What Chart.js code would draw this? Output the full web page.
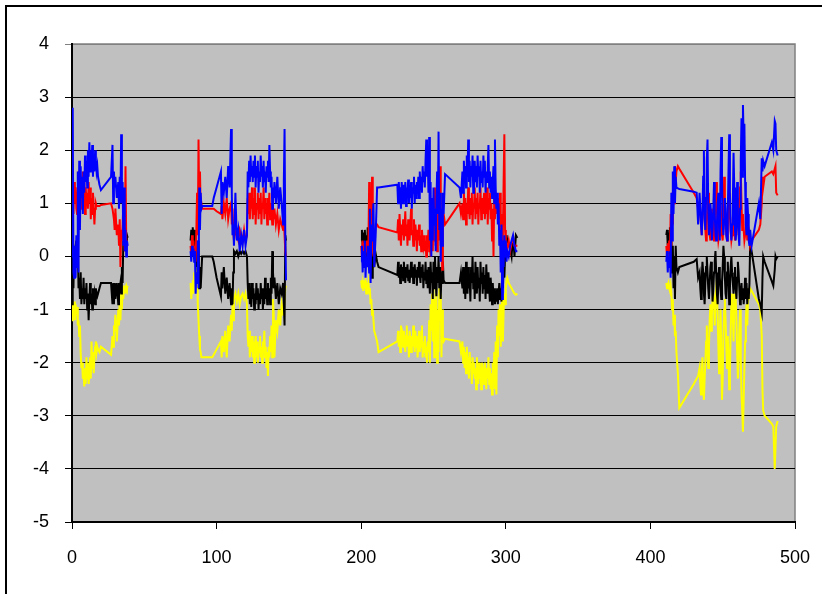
<!DOCTYPE html>
<html>
<head>
<meta charset="utf-8">
<script src="https://cdn.jsdelivr.net/npm/chart.js@4.4.1/dist/chart.umd.min.js"></script>
<style>
  html, body { margin: 0; padding: 0; background: #fff; overflow: hidden; }
  #frame { position: absolute; left: 5px; top: 5px; width: 900px; height: 700px; border: 2px solid #000; }
  #wrap { position: absolute; left: 0; top: 0; width: 822px; height: 594px; }
</style>
</head>
<body>
<div id="frame"></div>
<div id="wrap"><canvas id="myChart" width="822" height="594"></canvas></div>
<script>
// axis ticks
const yTicks = [-5, -4, -3, -2, -1, 0, 1, 2, 3, 4];
const xTicks = [0, 100, 200, 300, 400, 500];

// block 1 (x 0 - 39)
const x1 = [
  0, 0.5, 1, 1.5, 2, 2.5, 3, 3.5, 4, 4.5,
  5, 5.5, 6, 6.5, 7, 7.5, 8, 8.5, 9, 9.5,
  10, 10.5, 11, 11.5, 12, 12.5, 13, 13.5, 14, 14.5,
  15, 15.5, 16, 16.5, 17, 17.5, 18, 19, 20, 27,
  28, 28.5, 29, 29.5, 30, 31, 32, 32.5, 33, 33.5,
  34, 34.5, 35, 35.5, 36, 36.5, 37, 37.5, 38, 38.5
];
const blue1 = [
  0, 2.8, -0.3, -0.4, 0.2, -0.4, 0.4, -0.2, 1.6, -0.3,
  1.8, 0.5, 1.7, 1.1, 1.5, 0.8, 1.6, 1.2, 1.9, 1.4,
  1.8, 1.3, 2.0, 1.5, 2.15, 1.6, 2.0, 1.7, 2.1, 1.5,
  1.9, 1.6, 2.0, 1.8, 1.6, 1.7, 1.5, 1.35, 1.25, 1.5,
  2.1, 1.0, 1.6, 1.3, 1.5, 1.1, 1.4, 0.9, 1.5, 1.0,
  2.3, 1.0, 1.4, 0.2, 1.3, 0.1, 0.5, 0.0, 0.3, 0.2
];
const red1 = [
  1.4, 1.2, 0.8, 1.4, 1.0, 1.3, 0.9, 0.8, 1.2, 1.6,
  1.0, 1.4, 0.9, 1.3, 0.9, 1.6, 1.1, 1.4, 0.8, 1.3,
  1.0, 1.2, 0.9, 1.4, 1.0, 1.3, 0.7, 1.1, 0.8, 1.2,
  0.9, 0.6, 0.9, 1.0, 0.95, 0.95, 0.95, 0.95, 0.97, 1.0,
  0.9, 0.8, 0.7, 0.5, 0.9, 0.4, 0.6, 0.2, 0.7, -0.2,
  0.5, 0.3, 0.6, 1.0, 0.4, 0.1, 1.7, 0.3, 0.2, 0.2
];
const black1 = [
  -0.9, -0.3, -0.6, 0.1, -0.3, 0.2, 0.3, -0.1, 0.3, -0.6,
  -0.4, -0.8, -0.3, -0.9, -0.6, -0.8, -0.4, -0.9, -0.6, -0.8,
  -0.5, -1.0, -0.7, -1.2, -0.8, -0.5, -0.9, -0.7, -1.0, -0.6,
  -0.8, -0.7, -0.9, -0.6, -0.7, -0.75, -0.7, -0.6, -0.5, -0.5,
  -0.9, -0.5, -0.9, -0.5, -0.8, -0.5, -0.9, -0.5, -0.6, -0.5,
  -0.7, -0.2, -0.5, 0.3, 0.2, 0.4, 0.1, 0.3, 0.4, 0.35
];
const yellow1 = [
  -1.2, -0.9, -1.1, -0.85, -1.2, -0.9, -1.1, -0.95, -1.3, -1.2,
  -1.5, -1.3, -1.8, -2.1, -2.0, -2.3, -2.2, -2.45, -2.1, -2.4,
  -1.9, -2.3, -2.0, -2.4, -2.2, -1.9, -2.3, -1.6, -2.1, -1.8,
  -2.2, -1.9, -1.7, -1.6, -1.8, -1.7, -1.75, -1.8, -1.7, -1.85,
  -1.5, -1.7, -1.3, -1.4, -1.1, -1.6, -1.0, -1.3, -0.8, -1.2,
  -0.7, -1.0, -0.6, -0.8, -0.55, -0.7, -0.6, -0.55, -0.6, -0.55
];

// block 2 (x 82 - 148)
const x2 = [
  82, 82.5, 83, 83.5, 84, 84.5, 85, 85.5, 86, 86.5,
  87, 87.5, 88, 88.5, 89, 89.5, 90, 91, 97, 98,
  100, 103, 103.5, 104, 105, 106, 107, 108, 109, 110,
  110.5, 111, 111.5, 112, 113, 114, 115, 116, 117, 118,
  119, 120, 121, 121.5, 122, 122.5, 123, 123.5, 124, 124.5,
  125, 125.5, 126, 126.5, 127, 127.5, 128, 128.5, 129, 129.5,
  130, 130.5, 131, 131.5, 132, 132.5, 133, 133.5, 134, 134.5,
  135, 135.5, 136, 136.5, 137, 137.5, 138, 138.5, 139, 139.5,
  140, 141, 142, 143, 144, 145, 146, 146.5, 147, 147.5,
  148
];
const blue2 = [
  0.1, -0.1, 0.2, 0.0, 0.15, -0.1, 0.1, -0.7, -0.3, -0.5,
  0.3, -0.6, 1.3, 0.5, 1.2, 0.9, 0.95, 0.95, 0.95, 1.1,
  1.3, 1.6, 0.8, 1.4, 1.2, 1.5, 1.1, 1.7, 1.3, 2.4,
  1.2, 0.4, 0.6, 0.2, 1.2, 0.3, 0.5, 0.1, 0.4, 0.2,
  0.5, 0.2, 0.4, 1.6, 1.3, 1.8, 1.4, 1.9, 1.5, 1.7,
  1.4, 1.8, 1.5, 1.9, 1.3, 1.7, 1.5, 1.8, 1.2, 1.6,
  1.4, 1.9, 1.5, 1.7, 1.3, 1.8, 1.4, 1.6, 1.2, 1.7,
  1.5, 1.8, 1.4, 2.1, 1.6, 1.3, 1.5, 0.9, 1.3, 1.1,
  1.4, 1.0, 1.5, 0.9, 1.3, 1.0, 0.6, 1.4, 2.4, 0.4,
  -0.45
];
const red2 = [
  0.2, 0.0, 0.4, 0.1, 0.3, 0.0, 0.2, -0.1, 0.5, 1.2,
  0.4, 2.2, 0.9, 1.6, 0.9, 1.0, 0.9, 0.9, 0.9, 0.9,
  0.85, 0.8, 0.95, 0.7, 1.0, 0.8, 1.1, 0.7, 0.9, 1.0,
  0.6, 0.9, 0.5, 0.3, 0.5, 0.4, 0.3, 0.5, 0.4, 0.3,
  0.5, 0.3, 0.4, 1.1, 0.8, 1.2, 0.7, 1.0, 0.9, 1.3,
  0.7, 1.1, 0.8, 1.3, 0.6, 1.0, 0.9, 1.2, 0.7, 1.1,
  0.8, 1.2, 0.6, 1.0, 0.9, 1.3, 0.7, 1.1, 0.8, 1.0,
  0.6, 1.1, 0.9, 1.2, 0.7, 1.0, 0.8, 0.6, 0.9, 0.7,
  0.9, 0.6, 0.8, 0.5, 0.7, 0.6, 0.5, 0.7, 0.4, 0.1,
  0.0
];
const black2 = [
  0.3, 0.5, 0.2, 0.55, 0.3, 0.5, 0.1, 0.4, -0.2, 0.2,
  -0.5, 0.3, -0.6, -0.2, -0.6, -0.3, 0.0, 0.0, 0.0, -0.1,
  -0.4, -0.75, -0.3, -0.6, -0.2, -0.7, -0.4, -0.8, -0.5, -0.9,
  -0.6, -0.9, -0.3, 0.1, 0.05, 0.1, 0.0, 0.1, 0.05, 0.1,
  0.05, 0.1, 0.0, -0.5, -0.8, -0.5, -0.9, -0.6, -0.95, -0.5,
  -0.8, -0.6, -1.0, -0.7, -0.9, -0.5, -0.8, -0.6, -1.0, -0.7,
  -0.9, -0.5, -0.8, -0.6, -1.0, -0.7, -0.9, -0.4, -0.8, -0.6,
  -0.9, -0.5, -0.8, -0.6, -0.9, -0.4, -0.7, 0.1, -0.3, -0.6,
  -0.4, -0.8, -0.5, -0.9, -0.6, -0.7, -0.5, -0.9, -1.3, 0.4,
  0.3
];
const yellow2 = [
  -0.5, -0.8, -0.6, -0.45, -0.7, -0.3, -0.5, -0.3, -0.4, -0.3,
  -0.9, -1.2, -1.5, -1.75, -1.8, -1.9, -1.9, -1.9, -1.9, -1.85,
  -1.75, -1.6, -1.9, -1.5, -1.8, -1.4, -1.9, -1.3, -1.6, -1.1,
  -1.4, -0.9, -1.2, -0.8, -0.7, -0.85, -0.7, -0.9, -0.75, -0.7,
  -0.8, -0.7, -0.9, -1.5, -1.7, -1.4, -1.9, -1.6, -1.8, -1.5,
  -1.9, -1.6, -2.0, -1.7, -1.5, -1.9, -1.6, -2.0, -1.7, -1.8,
  -1.5, -1.9, -1.7, -2.0, -1.6, -1.8, -1.4, -1.9, -1.7, -2.1,
  -1.8, -2.25, -1.7, -1.9, -1.5, -1.8, -1.3, -1.9, -0.8, -1.1,
  -1.9, -1.2, -1.4, -1.0, -1.3, -0.9, -1.1, -0.7, -0.8, -0.6,
  -0.55
];

// block 3 (x 200 - 308)
const x3 = [
  200, 200.5, 201, 201.5, 202, 202.5, 203, 203.5, 204, 204.5,
  205, 205.5, 206, 206.5, 207, 207.5, 208, 208.5, 209, 210,
  211, 212, 225, 225.5, 226, 226.5, 227, 227.5, 228, 228.5,
  229, 229.5, 230, 230.5, 231, 231.5, 232, 232.5, 233, 233.5,
  234, 234.5, 235, 235.5, 236, 236.5, 237, 237.5, 238, 238.5,
  239, 239.5, 240, 240.5, 241, 241.5, 242, 242.5, 243, 243.5,
  244, 244.5, 245, 245.5, 246, 246.5, 247, 247.5, 248, 248.5,
  249, 249.5, 250, 250.5, 251, 251.5, 252, 252.5, 253, 253.5,
  254, 254.5, 255, 255.5, 256, 256.5, 257, 258, 268, 269,
  270, 270.5, 271, 271.5, 272, 272.5, 273, 273.5, 274, 274.5,
  275, 275.5, 276, 276.5, 277, 277.5, 278, 278.5, 279, 279.5,
  280, 280.5, 281, 281.5, 282, 282.5, 283, 283.5, 284, 284.5,
  285, 285.5, 286, 286.5, 287, 287.5, 288, 288.5, 289, 289.5,
  290, 290.5, 291, 291.5, 292, 292.5, 293, 293.5, 294, 294.5,
  295, 295.5, 296, 296.5, 297, 297.5, 298, 298.5, 299, 299.5,
  300, 300.5, 301, 302, 303, 304, 305, 306, 307, 308
];
const blue3 = [
  -0.1, 0.2, -0.3, 0.1, -0.2, 0.3, -0.4, 0.0, -0.2, 0.2,
  0.0, -0.3, 0.9, -0.5, 0.6, 0.3, 0.8, 1.0, -0.2, 0.4,
  1.3, 1.3, 1.35, 1.0, 1.4, 1.1, 1.3, 0.9, 1.4, 1.2,
  1.0, 1.35, 1.1, 1.4, 0.95, 1.3, 1.2, 1.45, 1.0, 1.3,
  1.1, 1.4, 0.9, 1.3, 1.2, 1.5, 1.0, 1.35, 1.1, 1.4,
  1.2, 1.5, 1.1, 1.6, 1.3, 1.5, 1.2, 1.7, 1.4, 1.6,
  1.3, 1.8, 2.2, 1.5, 1.9, 1.2, 2.25, 0.3, 1.4, 0.0,
  1.1, 0.3, 1.3, 0.6, 0.9, 0.1, 1.0, 1.6, 0.8, 2.35,
  0.5, 1.2, -0.1, 0.9, 0.2, 1.2, 0.8, 1.55, 1.3, 1.1,
  1.6, 1.2, 1.8, 1.4, 1.7, 1.3, 1.9, 1.5, 2.2, 1.4,
  1.8, 1.3, 1.7, 1.5, 1.9, 1.2, 1.6, 1.8, 1.4, 1.7,
  1.3, 1.9, 1.5, 1.7, 1.2, 1.8, 1.4, 1.6, 1.3, 1.9,
  1.5, 1.8, 1.2, 1.6, 1.4, 1.7, 2.1, 1.3, 1.6, 1.2,
  1.5, 1.1, 1.4, 1.7, 1.0, 2.2, 1.3, 0.9, 1.2, 0.6,
  1.0, 0.2, 0.5, -0.3, 0.6, -0.8, 0.3, -0.2, 0.4, 0.0,
  0.3, -0.1, 0.1, 0.0, 0.2, 0.3, 0.4, 0.2, 0.1, 0.1
];
const red3 = [
  0.2, 0.0, 0.3, 0.1, 0.25, -0.05, 0.2, 0.1, 0.3, 0.0,
  0.2, 1.4, 0.1, 0.6, 0.3, 1.5, 0.4, 0.0, 0.2, 0.6,
  0.6, 0.55, 0.45, 0.7, 0.3, 0.8, 0.5, 0.2, 0.6, 0.4,
  0.7, 0.3, 0.55, 0.85, 0.4, 0.6, 0.2, 0.7, 0.5, 0.3,
  0.6, 0.9, 0.4, 0.5, 0.2, 0.7, 0.3, 0.6, 0.4, 0.1,
  0.5, 0.3, 0.6, 0.2, 0.4, 0.1, 0.5, 0.3, 0.2, 0.4,
  0.1, 0.3, 0.0, 0.4, 0.2, 0.5, 0.1, 0.3, 0.0, 0.4,
  0.2, 0.1, 0.9, 0.3, 1.3, 0.2, 0.4, 0.1, 0.5, 1.5,
  0.3, 1.7, 0.2, 0.9, -0.25, 0.5, 0.8, 0.6, 1.0, 0.8,
  1.0, 0.7, 1.2, 0.9, 1.1, 0.6, 1.0, 0.8, 1.3, 0.9,
  0.7, 1.1, 0.8, 1.2, 0.6, 1.0, 0.9, 1.3, 0.7, 1.1,
  0.8, 1.2, 0.6, 1.0, 0.9, 1.3, 0.7, 1.1, 0.8, 1.0,
  1.2, 0.7, 1.0, 0.8, 1.3, 0.6, 1.1, 0.9, 1.2, 0.7,
  1.0, 0.3, 0.9, 0.0, 1.1, 0.7, 1.2, 0.8, 1.0, 0.9,
  1.1, 0.7, 1.2, 0.4, 0.8, 0.2, 0.5, 1.4, 2.3, 0.5,
  0.2, 0.1, 0.15, 0.3, 0.1, 0.25, 0.35, 0.2, 0.2, 0.2
];
const black3 = [
  0.3, 0.5, 0.2, 0.45, 0.1, 0.5, 0.2, 0.4, 0.0, 0.55,
  0.2, 0.4, 0.0, -0.3, 0.3, -0.4, -0.1, 0.0, -0.2, 0.05,
  -0.1, -0.2, -0.35, -0.1, -0.4, -0.2, -0.5, -0.15, -0.35, -0.2,
  -0.45, -0.1, -0.3, -0.5, -0.2, -0.4, -0.15, -0.45, -0.25, -0.5,
  -0.3, -0.1, -0.4, -0.2, -0.5, -0.3, -0.15, -0.4, -0.25, -0.55,
  -0.2, -0.4, -0.1, -0.35, -0.5, -0.2, -0.4, -0.15, -0.6, -0.3,
  -0.45, -0.1, -0.5, -0.25, -0.6, -0.2, -0.4, -0.7, -0.1, -0.5,
  -0.3, -0.8, -0.1, -0.6, 0.0, -0.4, -0.75, -0.2, -0.5, 0.0,
  -0.6, -0.2, -0.8, -0.3, -0.5, -0.1, -0.45, -0.5, -0.5, -0.3,
  -0.6, -0.2, -0.7, -0.3, -0.8, -0.1, -0.5, -0.7, -0.2, -0.6,
  -0.4, -0.85, -0.2, -0.5, 0.0, -0.6, -0.3, -0.8, -0.1, -0.5,
  -0.7, -0.2, -0.6, -0.4, -0.85, -0.1, -0.5, -0.3, -0.7, -0.2,
  -0.6, -0.35, -0.8, -0.15, -0.5, -0.7, -0.3, -0.6, -0.85, -0.4,
  -0.6, -0.9, -0.5, -0.8, -0.6, -0.9, -0.7, -0.85, -0.6, -0.9,
  -0.7, -0.5, -0.8, -0.6, -0.85, -0.3, -0.6, -0.2, -0.4, 0.0,
  0.1, 0.4, 0.3, 0.25, 0.15, 0.0, 0.4, 0.0, 0.4, 0.35
];
const yellow3 = [
  -0.45, -0.6, -0.5, -0.65, -0.45, -0.6, -0.5, -0.7, -0.55, -0.6,
  -0.5, -0.7, -0.6, -0.9, -0.8, -1.1, -1.0, -1.2, -1.4, -1.5,
  -1.6, -1.8, -1.6, -1.4, -1.7, -1.5, -1.8, -1.3, -1.6, -1.5,
  -1.7, -1.4, -1.6, -1.8, -1.5, -1.3, -1.7, -1.5, -1.9, -1.4,
  -1.6, -1.8, -1.5, -1.7, -1.3, -1.6, -1.8, -1.4, -1.7, -1.5,
  -1.9, -1.6, -1.4, -1.8, -1.5, -1.7, -1.3, -1.9, -1.6, -1.8,
  -1.5, -1.9, -1.7, -2.0, -1.6, -1.8, -1.2, -2.0, -0.9, -1.4,
  -0.7, -1.6, -0.6, -1.9, -0.8, -1.5, -0.7, -2.0, -1.0, -1.8,
  -0.6, -1.2, -0.7, -1.9, -1.0, -1.5, -1.6, -1.55, -1.6, -1.8,
  -1.6, -2.0, -1.7, -2.1, -1.8, -2.2, -1.7, -2.0, -1.9, -2.3,
  -1.8, -2.1, -2.0, -2.4, -1.9, -2.2, -2.0, -2.3, -2.1, -2.5,
  -1.9, -2.2, -2.4, -2.0, -2.3, -2.1, -2.5, -2.0, -2.3, -2.2,
  -2.4, -2.0, -2.2, -2.5, -2.1, -2.3, -1.9, -2.4, -2.1, -2.5,
  -2.2, -2.6, -2.0, -2.3, -1.8, -2.5, -1.6, -2.6, -1.3, -1.9,
  -1.0, -1.5, -0.9, -1.7, -1.2, -0.8, -1.6, -1.0, -0.7, -0.9,
  -0.6, -0.45, -0.4, -0.5, -0.55, -0.6, -0.65, -0.7, -0.72, -0.7
];

// block 4 (x 411 - 488)
const x4 = [
  411, 411.5, 412, 412.5, 413, 413.5, 414, 414.5, 415, 415.5,
  416, 416.5, 417, 417.5, 418, 419, 420, 430, 432, 433,
  434, 434.5, 435, 435.5, 436, 436.5, 437, 437.5, 438, 438.5,
  439, 439.5, 440, 440.5, 441, 441.5, 442, 442.5, 443, 443.5,
  444, 444.5, 445, 445.5, 446, 446.5, 447, 447.5, 448, 448.5,
  449, 449.5, 450, 450.5, 451, 451.5, 452, 452.5, 453, 453.5,
  454, 454.5, 455, 455.5, 456, 456.5, 457, 457.5, 458, 458.5,
  459, 459.5, 460, 460.5, 461, 461.5, 462, 462.5, 463, 463.5,
  464, 464.5, 465, 465.5, 466, 466.5, 467, 467.5, 468, 468.5,
  469, 470, 475, 476, 477, 477.5, 478, 479, 484, 485,
  486, 486.5, 487, 488
];
const blue4 = [
  -0.1, 0.1, -0.3, 0.0, -0.2, 0.1, -0.4, 1.2, 0.3, 1.6,
  0.8, 1.7, 1.0, 1.5, 1.3, 1.28, 1.27, 1.22, 1.2, 0.6,
  1.2, 0.9, 0.6, 0.4, 0.8, 1.5, 2.0, 0.7, 0.5, 1.1,
  1.8, 2.2, 0.9, 0.4, 0.6, 1.0, 0.8, 0.3, 0.5, 0.9,
  1.4, 0.8, 0.4, 0.3, 0.6, 1.0, 1.2, 0.5, 0.3, 1.6,
  2.25, 1.5, 0.6, 0.4, 0.7, 1.1, 0.9, 0.4, 0.3, 0.8,
  1.6, 2.3, 1.2, 0.5, 0.3, 0.6, 1.0, 1.95, 1.3, 0.5,
  0.3, 0.6, 1.4, 0.8, 0.4, 0.2, 0.9, 1.8, 2.6, 1.5,
  2.85, 2.2, 2.5, 1.4, 0.6, 0.4, 1.1, 0.8, 0.3, 0.2,
  0.5, 0.2, 1.0, 0.7, 1.85, 1.6, 1.8, 1.7, 2.15, 2.0,
  2.55, 2.5, 2.0, 1.9
];
const red4 = [
  0.2, 0.0, 0.25, 0.05, 0.3, 0.0, 0.8, 0.2, 1.2, 0.6,
  1.5, 1.0, 1.7, 1.4, 1.6, 1.7, 1.65, 1.2, 1.1, 0.9,
  1.0, 0.8, 0.6, 0.4, 0.7, 1.1, 1.3, 0.9, 0.5, 0.3,
  0.6, 1.0, 1.2, 0.8, 0.4, 0.3, 0.6, 0.9, 0.7, 0.4,
  0.3, 0.6, 1.1, 1.4, 0.9, 0.5, 0.3, 0.4, 0.8, 1.0,
  0.7, 0.4, 0.3, 0.6, 1.5, 1.1, 0.6, 0.4, 0.3, 0.5,
  0.9, 1.2, 0.8, 0.5, 0.3, 0.4, 0.7, 1.0, 0.6, 0.3,
  0.4, 0.8, 1.1, 0.7, 0.4, 0.6, 1.3, 1.6, 1.0, 0.5,
  0.8, 0.5, 0.3, 0.4, 0.9, 0.6, 0.3, 0.5, 0.3, 0.4,
  0.2, 0.3, 0.5, 0.6, 1.0, 1.5, 1.3, 1.5, 1.6, 1.55,
  1.65, 1.7, 1.2, 1.15
];
const black4 = [
  0.4, 0.5, 0.2, 0.45, 0.3, 0.55, 0.1, 0.35, -0.3, 0.2,
  -0.6, 0.0, -0.8, 0.2, -0.2, -0.3, -0.2, -0.1, -0.05, -0.4,
  -0.3, -0.6, -0.8, -0.4, -0.1, -0.3, -0.7, -0.9, -0.5, -0.2,
  0.0, -0.3, -0.6, -0.8, -0.5, -0.2, -0.1, -0.4, -0.85, -0.6,
  -0.3, -0.1, 0.1, -0.3, -0.7, -0.9, -0.5, -0.2, -0.4, -0.6,
  -0.8, -0.5, -0.2, 0.2, 0.0, -0.4, -0.7, -0.8, -0.3, -0.1,
  -0.4, -0.9, -0.6, -0.2, 0.0, -0.3, -0.5, -0.7, -0.4, -0.2,
  -0.6, -0.8, -0.4, -0.1, -0.3, -0.6, -0.9, -0.7, -0.5, -0.8,
  -0.6, -0.9, -0.7, -0.4, -0.8, -0.5, -0.9, -0.6, -0.8, -0.5,
  0.25, 0.1, -0.8, -0.9, -1.05, -0.4, 0.0, -0.1, -0.47, -0.55,
  -0.25, 0.0, -0.05, 0.0
];
const yellow4 = [
  -0.5, -0.6, -0.55, -0.5, -0.6, -0.65, -0.55, -0.7, -1.0, -0.8,
  -1.3, -1.1, -1.5, -1.4, -1.8, -2.2, -2.85, -2.4, -2.3, -2.25,
  -2.1, -2.4, -2.6, -2.2, -1.9, -2.5, -2.7, -2.3, -2.0, -1.6,
  -1.3, -1.8, -2.1, -1.7, -1.2, -0.9, -1.4, -1.1, -0.8, -0.7,
  -0.9, -1.3, -0.8, -0.6, -0.7, -1.1, -1.7, -2.2, -1.6, -1.0,
  -1.8, -2.7, -2.3, -1.5, -1.0, -0.8, -1.2, -1.7, -2.1, -1.5,
  -1.9, -2.5, -2.2, -1.4, -0.9, -0.7, -1.1, -1.6, -0.9, -0.7,
  -0.8, -1.2, -1.8, -2.3, -2.0, -1.4, -1.0, -1.9, -2.6, -2.9,
  -3.3, -2.7, -2.1, -1.6, -1.2, -0.9, -1.3, -0.8, -0.6, -0.7,
  -0.6, -0.65, -0.9, -1.0, -1.5, -2.5, -2.9, -3.0, -3.15, -3.2,
  -4.0, -3.6, -3.2, -3.1
];

const xBlocks = [x1, x2, x3, x4];

// joins the blocks into one point list, with a break between blocks
function makePoints(yBlocks) {
  const pts = [];
  xBlocks.forEach((xs, b) => {
    if (b > 0) pts.push({ x: xs[0], y: null });
    xs.forEach((x, i) => pts.push({ x: x, y: yBlocks[b][i] }));
  });
  return pts;
}

const plotBg = {
  id: "plotBg",
  beforeDraw(chart) {
    const { ctx, chartArea: a } = chart;
    ctx.save();
    ctx.fillStyle = "#C0C0C0";
    ctx.fillRect(a.left, a.top, a.right - a.left, a.bottom - a.top);
    ctx.strokeStyle = "#808080";
    ctx.lineWidth = 1.5;
    ctx.strokeRect(a.left, a.top, a.right - a.left, a.bottom - a.top);
    ctx.restore();
  },
};

function lineSet(label, color, ys) {
  return {
    label: label,
    data: makePoints(ys),
    borderColor: color,
    backgroundColor: color,
    borderWidth: 2,
    pointRadius: 0,
    showLine: true,
    spanGaps: false,
    tension: 0,
  };
}

const ctx = document.getElementById("myChart").getContext("2d");
const myChart = new Chart(ctx, {
  type: "scatter",
  data: {
    datasets: [
      lineSet("Series 4", "#0000FF", [blue1, blue2, blue3, blue4]),
      lineSet("Series 3", "#FF0000", [red1, red2, red3, red4]),
      lineSet("Series 2", "#000000", [black1, black2, black3, black4]),
      lineSet("Series 1", "#FFFF00", [yellow1, yellow2, yellow3, yellow4]),
    ],
  },
  options: {
    responsive: false,
    animation: false,
    devicePixelRatio: 1,
    layout: { padding: { top: 44, right: 27, left: 0, bottom: 0 } },
    plugins: {
      legend: { display: false },
      tooltip: { enabled: false },
    },
    scales: {
      x: {
        type: "linear",
        min: 0,
        max: 500,
        afterBuildTicks: (s) => { s.ticks = xTicks.map((v) => ({ value: v })); },
        afterFit: (s) => { s.height = 72; s.paddingLeft = 0; s.paddingRight = 0; },
        grid: { drawOnChartArea: false, drawTicks: true, tickLength: 7, color: "#000" },
        border: { display: true, color: "#000", width: 2 },
        ticks: {
          color: "#000",
          padding: 18,
          maxRotation: 0,
          font: { family: "'Liberation Sans', Arial, sans-serif", size: 18 },
        },
      },
      y: {
        type: "linear",
        min: -5,
        max: 4,
        afterBuildTicks: (s) => { s.ticks = yTicks.map((v) => ({ value: v })); },
        afterFit: (s) => { s.width = 72; s.paddingTop = 0; s.paddingBottom = 0; },
        grid: {
          drawTicks: true,
          tickLength: 7,
          lineWidth: 1,
          color: (c) => (c.tick && c.tick.value === 4 ? "#808080" : "#000"),
        },
        border: { display: true, color: "#000", width: 2 },
        ticks: {
          color: "#000",
          padding: 16,
          font: { family: "'Liberation Sans', Arial, sans-serif", size: 18 },
        },
      },
    },
  },
  plugins: [plotBg],
});
</script>
</body>
</html>
